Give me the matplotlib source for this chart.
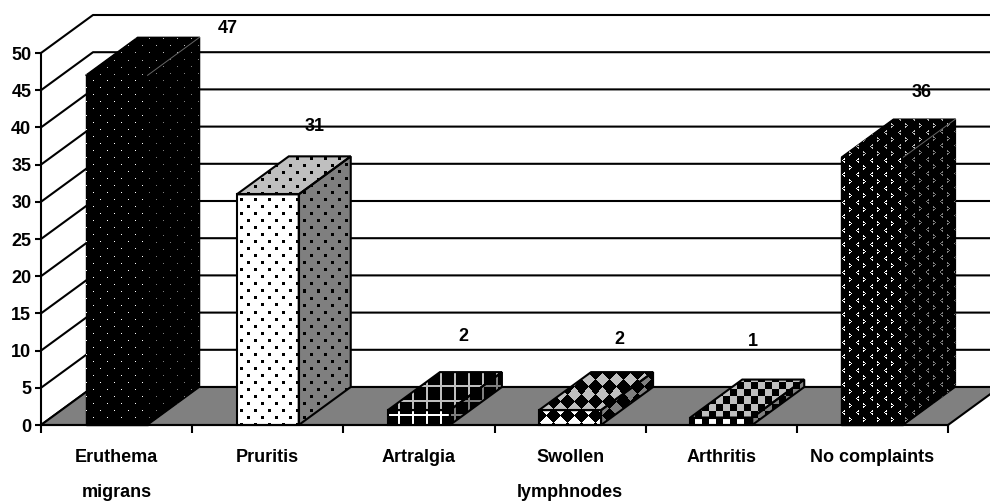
import numpy as np
import matplotlib
matplotlib.use('Agg')
import matplotlib.pyplot as plt
from matplotlib.patches import Polygon

plt.rcParams['font.family'] = ['Liberation Sans', 'DejaVu Sans']

categories = ['Eruthema\nmigrans', 'Pruritis', 'Artralgia', 'Swollen\nlymphnodes', 'Arthritis', 'No complaints']
values = [47, 31, 2, 2, 1, 36]
value_ticks = np.arange(0, 55, 5)

# label offsets from the back top corner of each bar, in pixels
label_dx = [28, -36, -39, -34, -51, -34]
label_dy = [9, 30, 36, 33, 38, 27]

W, H = 990, 501
font_tick = 13
font_cat = 13
font_val = 13

fig = plt.figure(figsize=(W/100, H/100), dpi=100)
ax = fig.add_axes([41/W, (H-425)/H, (948-41)/W, (425-53)/H])
ax.set_xlim(0, 6)
ax.set_ylim(0, 50)
ax.patch.set_visible(False)
ax.set_autoscale_on(False)

# depth of the fake 3d box, in data units
dx = 52/(907/6)
dy = 38/(372/50)
bar_w = 0.41


def dots(size):
    t = np.zeros((14, 14), bool)
    for r0, c0 in [(0, 0), (7, 7)]:
        for r in range(size):
            for c in range(size):
                t[(r0+r-size//2) % 14, (c0+c-size//2) % 14] = True
    return t


def grid_tile():
    t = np.ones((14, 14), bool)
    t[:2, :] = False
    t[:, :2] = False
    return t


def diamond_tile():
    r, c = np.indices((14, 14))
    r = np.minimum(r, 14-r)
    c = np.minimum(c, 14-c)
    return r+c > 6


def checker_tile():
    r, c = np.indices((14, 14))
    return (r//7+c//7) % 2 == 1


def chevron_tile():
    t = np.ones((14, 14), bool)
    for r, c in [(-2, -1), (-1, 0), (0, 1), (1, 0), (2, -1), (-1, -1), (1, -1)]:
        t[r % 14, c % 14] = False
    for r, c in [(5, 8), (6, 7), (7, 6), (8, 7), (9, 8), (6, 8), (8, 8)]:
        t[r, c] = False
    return t


# True = black, False = the shade of the face
tiles = [~dots(1), dots(3), grid_tile(), diamond_tile(), checker_tile(), chevron_tile()]
phases = [(142, 46), (276, 207), (398, 414), (602, 380), (695, 418), (906, 125)]
dark = [True, False, False, False, False, True]


def pattern_face(pts, tile, phase, shade):
    disp = ax.transData.transform(pts)
    x0, x1 = int(np.floor(disp[:, 0].min()))-1, int(np.ceil(disp[:, 0].max()))+1
    y0, y1 = int(np.floor(disp[:, 1].min()))-1, int(np.ceil(disp[:, 1].max()))+1
    cols = np.arange(x0, x1)
    rows = H-1-np.arange(y1-1, y0-1, -1)
    m = tile[np.ix_((rows-phase[1]) % 14, (cols-phase[0]) % 14)]
    img = np.where(m[..., None], 0.0, shade)*np.ones(m.shape+(3,))
    (ex0, ey0), (ex1, ey1) = ax.transData.inverted().transform([(x0, y0), (x1, y1)])
    im = ax.imshow(img, extent=(ex0, ex1, ey0, ey1), aspect='auto', origin='upper',
                   interpolation='nearest', zorder=3)
    im.set_clip_path(Polygon(pts, transform=ax.transData))
    # faces go past the axes box, the image must not stop there
    im.set_clip_box(fig.bbox)


# back wall and side wall lines
for v in value_ticks:
    ax.plot([0, dx, 6+dx], [v, v+dy, v+dy], color='k', lw=1.5, clip_on=False, zorder=1)

# floor
ax.add_patch(Polygon([(0, 0), (dx, dy), (6+dx, dy), (6, 0)], closed=True, facecolor='#808080',
                     edgecolor='k', lw=1.5, clip_on=False, zorder=2))

for i, v in enumerate(values):
    l, r = i+0.5-bar_w/2, i+0.5+bar_w/2
    front = [(l, 0), (r, 0), (r, v), (l, v)]
    top = [(l, v), (r, v), (r+dx, v+dy), (l+dx, v+dy)]
    side = [(r, 0), (r+dx, dy), (r+dx, v+dy), (r, v)]
    for pts, shade in [(front, 1.0), (top, 0.75), (side, 0.5)]:
        if dark[i]:
            # black under the face so no white shows at the face joins
            ax.add_patch(Polygon(pts, closed=True, facecolor='k', edgecolor='k', lw=1,
                                 clip_on=False, zorder=2.5))
        pattern_face(pts, tiles[i], phases[i], shade)
        if not dark[i]:
            ax.add_patch(Polygon(pts, closed=True, fill=False, edgecolor='k', lw=1.5,
                                 clip_on=False, zorder=4))
    if dark[i]:
        # only a faint seam shows on the black bars
        ax.plot([r, r+dx], [v, v+dy], color='#666666', lw=0.7, clip_on=False, zorder=5)
    ax.annotate(str(v), (r+dx, v+dy), xytext=(label_dx[i], label_dy[i]), textcoords='offset pixels',
                ha='center', va='center', fontsize=font_val, fontweight='bold', zorder=6,
                annotation_clip=False)

ax.spines['top'].set_visible(False)
ax.spines['right'].set_visible(False)
ax.spines['left'].set_linewidth(1.5)
ax.spines['bottom'].set_linewidth(1.5)
ax.spines['bottom'].set_zorder(5)

ax.set_yticks(value_ticks)
ax.tick_params(axis='y', labelsize=font_tick, width=1.5, length=4, pad=3)
ax.set_xticks(np.arange(7))
ax.set_xticklabels([])
ax.set_xticks(np.arange(6)+0.5, labels=categories, minor=True)
ax.tick_params(axis='x', which='major', width=1.5, length=6)
ax.tick_params(axis='x', which='minor', length=0, pad=17, labelsize=font_cat)
for t in ax.get_yticklabels()+ax.get_xticklabels(minor=True):
    t.set_fontweight('bold')
for t in ax.get_xticklabels(minor=True):
    t.set_linespacing(2.4)

fig.savefig('out.png', dpi=100)
